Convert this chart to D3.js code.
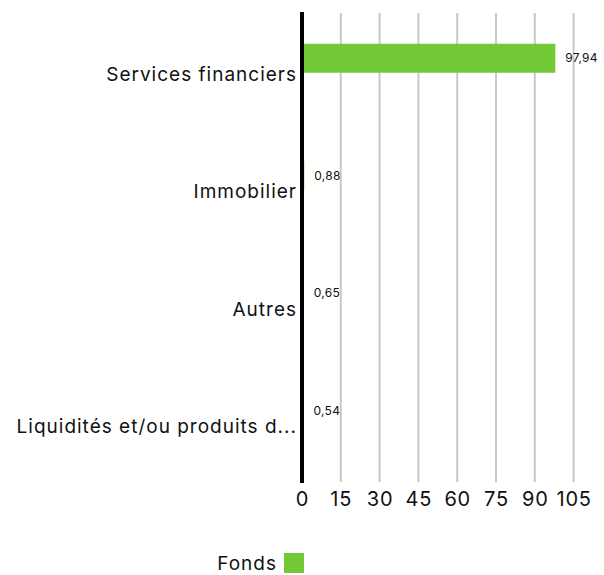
<!DOCTYPE html>
<html>
<head>
<meta charset="utf-8">
<script src="https://cdn.jsdelivr.net/npm/d3@7"></script>
<style>
  body { margin: 0; background: #fff; }
  text { font-family: Inter, "Noto Sans", sans-serif; fill: #111; }
</style>
</head>
<body>
<svg id="chart"></svg>
<script>
// chart data
var categories = ["Services financiers", "Immobilier", "Autres", "Liquidités et/ou produits d..."]
var values = [97.94, 0.88, 0.65, 0.54]
var valueLabels = ["97,94", "0,88", "0,65", "0,54"]
var ticks = [0, 15, 30, 45, 60, 75, 90, 105]
var seriesName = "Fonds"
var green = "#73c935"

var screen = {width:604, height:575}
var margins = {top:12, left:302, right:30, bottom:93}
var graph = {
    width: screen.width - margins.left - margins.right,
    height: screen.height - margins.top - margins.bottom
}

var svg = d3.select("#chart")
    .attr("width", screen.width)
    .attr("height", screen.height)

var xScale = d3.scaleLinear()
    .domain([0, 105])
    .range([0, 271.6])

var yScale = d3.scaleBand()
    .domain(categories)
    .range([0, graph.height])

var g = svg.append("g")
    .attr("transform", "translate(" + margins.left + "," + margins.top + ")")

// vertical grid lines
g.selectAll("line.grid")
    .data(ticks.slice(1))
    .enter()
    .append("line")
    .attr("class", "grid")
    .attr("x1", function(d) { return xScale(d) })
    .attr("x2", function(d) { return xScale(d) })
    .attr("y1", 1)
    .attr("y2", graph.height)
    .attr("stroke", "#c8c8c8")
    .attr("stroke-width", 2)

// bars (sit above the band centre)
g.selectAll("rect.bar")
    .data(values)
    .enter()
    .append("rect")
    .attr("class", "bar")
    .attr("x", xScale(0) + 2)
    .attr("y", function(d, i) { return yScale(categories[i]) + yScale.bandwidth() / 2 - 27 })
    .attr("width", function(d) { return Math.max(0, xScale(d) - xScale(0) - 2) })
    .attr("height", 29)
    .attr("fill", green)

// value labels
g.selectAll("text.value")
    .data(values)
    .enter()
    .append("text")
    .attr("class", "value")
    .attr("x", function(d) { return xScale(d) + 10 })
    .attr("y", function(d, i) { return yScale(categories[i]) + yScale.bandwidth() / 2 - 12 })
    .attr("font-size", 12)
    .attr("letter-spacing", 0.3)
    .attr("dominant-baseline", "middle")
    .text(function(d, i) { return valueLabels[i] })

// y axis line
g.append("line")
    .attr("x1", 0).attr("x2", 0)
    .attr("y1", 0).attr("y2", graph.height + 1)
    .attr("stroke", "#000")
    .attr("stroke-width", 4)

// category labels
g.selectAll("text.cat")
    .data(categories)
    .enter()
    .append("text")
    .attr("class", "cat")
    .attr("x", -5)
    .attr("y", function(d) { return yScale(d) + yScale.bandwidth() / 2 + 5 })
    .attr("text-anchor", "end")
    .attr("dominant-baseline", "middle")
    .attr("font-size", 19)
    .attr("letter-spacing", 1)
    .text(function(d) { return d })

// x tick labels
var xAxis = d3.axisBottom(xScale)
    .tickValues(ticks)
    .tickSize(0)
    .tickPadding(0)
var ax = g.append("g")
    .attr("transform", "translate(0," + (graph.height + 8) + ")")
    .call(xAxis)
ax.select(".domain").remove()
ax.selectAll("text")
    .attr("font-size", 20)
    .attr("fill", "#111")
    .attr("letter-spacing", 0.8)
    .attr("dy", "0.8em")
    .style("font-family", "Inter, 'Noto Sans', sans-serif")

// legend
var legend = svg.append("g")
    .attr("transform", "translate(284,553)")
legend.append("rect")
    .attr("width", 20)
    .attr("height", 20)
    .attr("fill", green)
legend.append("text")
    .attr("x", -7)
    .attr("y", 12)
    .attr("text-anchor", "end")
    .attr("dominant-baseline", "middle")
    .attr("font-size", 19)
    .attr("letter-spacing", 1)
    .text(seriesName)
</script>
</body>
</html>
